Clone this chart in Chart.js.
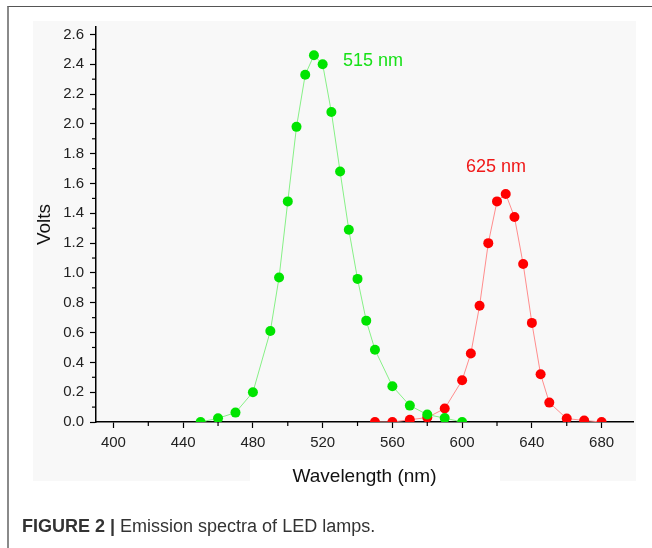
<!DOCTYPE html>
<html>
<head>
<meta charset="utf-8">
<script src="https://cdn.jsdelivr.net/npm/chart.js@4/dist/chart.umd.min.js"></script>
<style>
  body { margin: 0; background: #fff; width: 652px; height: 548px; overflow: hidden; position: relative; }
  #frame { position: absolute; left: 7px; top: 6px; width: 700px; height: 600px; border-left: 2px solid #8a8a8a; border-top: 1px solid #555; }
  #panel { position: absolute; left: 33px; top: 21px; width: 603px; height: 460px; background: #f8f8f8; }
  #xbox { position: absolute; left: 250px; top: 460px; width: 250px; height: 30px; background: #fff; }
  #myChart { position: absolute; left: 0; top: 0; }
  #caption { position: absolute; left: 22px; top: 516px; font-family: "Liberation Sans", Arial, sans-serif; font-size: 18px; color: #333; white-space: nowrap; }
  #caption b { font-weight: bold; }
</style>
</head>
<body>
<div id="frame"></div>
<div id="panel"></div>
<div id="xbox"></div>
<canvas id="myChart" width="652" height="548"></canvas>
<div id="caption"><b>FIGURE 2 |</b> Emission spectra of LED lamps.</div>
<script>
// green LED (peak 515 nm)
var greenX = [450, 460, 470, 480, 490, 495, 500, 505, 510, 515, 520, 525, 530, 535, 540, 545, 550, 560, 570, 580, 590, 600]
var greenY = [0.00, 0.025, 0.063, 0.20, 0.61, 0.97, 1.48, 1.98, 2.33, 2.46, 2.40, 2.08, 1.68, 1.29, 0.96, 0.68, 0.485, 0.24, 0.11, 0.05, 0.026, 0.00]
// red LED (peak 625 nm)
var redX = [550, 560, 570, 580, 590, 600, 605, 610, 615, 620, 625, 630, 635, 640, 645, 650, 660, 670, 680]
var redY = [0.00, 0.00, 0.015, 0.03, 0.09, 0.28, 0.46, 0.78, 1.20, 1.48, 1.53, 1.375, 1.06, 0.665, 0.32, 0.13, 0.023, 0.01, 0.00]
var peakLabels = ['515 nm', '625 nm']

function toPoints(xs, ys) {
  return xs.map((x, i) => ({x: x, y: ys[i]}))
}

// short minor ticks half way between the major ones
const minorTicks = {
  id: 'minorTicks',
  afterDraw(chart) {
    const ctx = chart.ctx
    ctx.save()
    ctx.strokeStyle = '#000'
    ctx.lineWidth = 1.2
    const xs = chart.scales.x, ys = chart.scales.y
    const xt = xs.ticks.map(t => t.value)
    const xstep = xt[1] - xt[0]
    for (let v = xt[0] - xstep / 2; v <= xs.max; v += xstep) {
      if (v < xs.min) continue
      const px = xs.getPixelForValue(v)
      ctx.beginPath(); ctx.moveTo(px, xs.top); ctx.lineTo(px, xs.top + 4); ctx.stroke()
    }
    const yt = ys.ticks.map(t => t.value)
    const ystep = yt[1] - yt[0]
    for (let v = yt[0] + ystep / 2; v <= ys.max; v += ystep) {
      const py = ys.getPixelForValue(v)
      ctx.beginPath(); ctx.moveTo(ys.right, py); ctx.lineTo(ys.right - 4, py); ctx.stroke()
    }
    ctx.restore()
  }
}

// peak labels placed in data units
const peakText = {
  id: 'peakText',
  afterDatasetsDraw(chart, args, opts) {
    const ctx = chart.ctx
    ctx.save()
    ctx.font = '18px "Liberation Sans", Arial, sans-serif'
    ctx.textAlign = 'left'
    ctx.textBaseline = 'middle'
    opts.items.forEach((it, i) => {
      ctx.fillStyle = it.color
      ctx.fillText(peakLabels[i], chart.scales.x.getPixelForValue(it.x), chart.scales.y.getPixelForValue(it.y))
    })
    ctx.restore()
  }
}

const ctx = document.getElementById('myChart')
const chart1 = new Chart(ctx, {
  type: 'scatter',
  data: {
    datasets: [{
      data: toPoints(greenX, greenY),
      showLine: true,
      borderColor: '#86f086',
      borderWidth: 1,
      backgroundColor: '#00e400',
      pointBorderColor: '#00e400',
      pointBackgroundColor: '#00e400',
      pointRadius: 5,
      pointBorderWidth: 0,
      tension: 0
    }, {
      data: toPoints(redX, redY),
      showLine: true,
      borderColor: '#ff8c8c',
      borderWidth: 1,
      backgroundColor: '#ff0000',
      pointBorderColor: '#ff0000',
      pointBackgroundColor: '#ff0000',
      pointRadius: 5,
      pointBorderWidth: 0,
      tension: 0
    }]
  },
  options: {
    responsive: false,
    animation: false,
    layout: {padding: {left: 33, top: 27, right: 19, bottom: 60}},
    plugins: {
      legend: {display: false},
      tooltip: {enabled: false},
      peakText: {items: [
        {x: 531.7, y: 2.425, color: '#18e018'},
        {x: 602.2, y: 1.711, color: '#f01818'}
      ]}
    },
    scales: {
      x: {
        type: 'linear',
        min: 390,
        max: 698,
        afterFit: s => { s.height = 66 },
        border: {color: '#000', width: 1.5},
        grid: {drawOnChartArea: false, drawTicks: true, tickLength: 6, tickColor: '#000', tickWidth: 1.2},
        ticks: {stepSize: 40, includeBounds: false, padding: 6, color: '#222',
          font: {family: '"Liberation Sans", Arial, sans-serif', size: 15}},
        title: {display: true, text: 'Wavelength (nm)', color: '#111', padding: 0,
          font: {family: '"Liberation Sans", Arial, sans-serif', size: 19}}
      },
      y: {
        min: 0,
        max: 2.65,
        afterFit: s => { s.width = 63 },
        border: {color: '#000', width: 1.5},
        grid: {drawOnChartArea: false, drawTicks: true, tickLength: 6, tickColor: '#000', tickWidth: 1.2},
        ticks: {stepSize: 0.2, includeBounds: false, padding: 6, color: '#222',
          callback: v => v.toFixed(1),
          font: {family: '"Liberation Sans", Arial, sans-serif', size: 15}},
        title: {display: true, text: 'Volts', color: '#111', padding: 0,
          font: {family: '"Liberation Sans", Arial, sans-serif', size: 19}}
      }
    }
  },
  plugins: [minorTicks, peakText]
});
</script>
</body>
</html>
